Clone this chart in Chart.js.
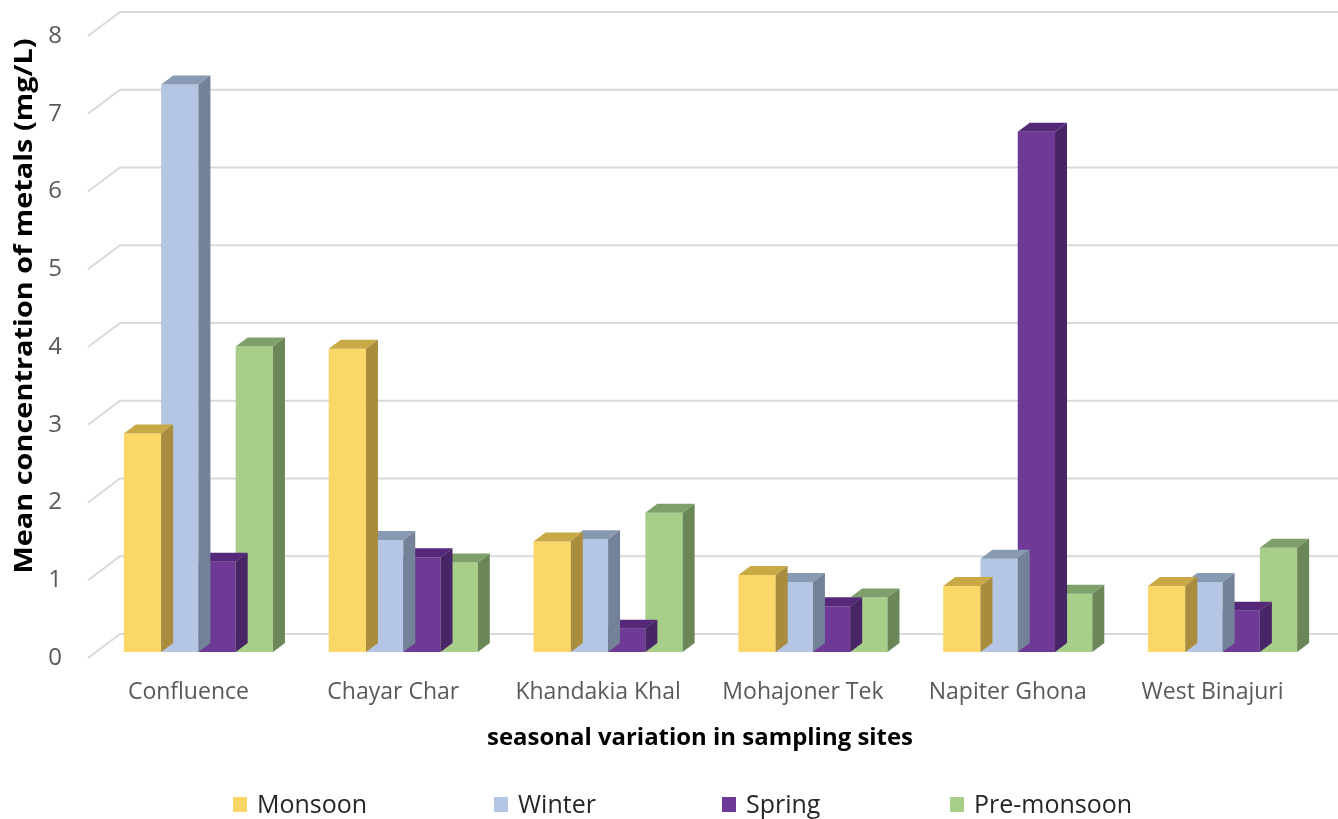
<!DOCTYPE html>
<html>
<head>
<meta charset="utf-8">
<script src="https://cdn.jsdelivr.net/npm/chart.js@4.4.1/dist/chart.umd.min.js"></script>
<style>
  html, body { margin: 0; padding: 0; background: #ffffff; }
  #wrap { width: 1338px; height: 819px; position: relative; }
</style>
</head>
<body>
<div id="wrap"><canvas id="chart" width="1338" height="819"></canvas></div>
<script>
// Sampling sites along the x axis
const sites = ['Confluence', 'Chayar Char', 'Khandakia Khal', 'Mohajoner Tek', 'Napiter Ghona', 'West Binajuri'];

// Mean concentration of metals (mg/L) per season
const monsoon    = [2.81, 3.90, 1.42, 0.99, 0.85, 0.85];
const winter     = [7.30, 1.44, 1.45, 0.90, 1.20, 0.90];
const spring     = [1.16, 1.22, 0.30, 0.59, 6.69, 0.53];
const preMonsoon = [3.93, 1.15, 1.79, 0.70, 0.75, 1.34];

const seasonNames = ['Monsoon', 'Winter', 'Spring', 'Pre-monsoon'];
const yTicks = [0, 1, 2, 3, 4, 5, 6, 7, 8];

// front / top / side shades for each season
const shades = [
  { front: '#FAD766', top: '#C9A945', side: '#A98C3D' },
  { front: '#B4C6E3', top: '#8899B2', side: '#738299' },
  { front: '#6F3996', top: '#55287A', side: '#472566' },
  { front: '#A8CF8A', top: '#7FA06A', side: '#6B8757' }
];

const DEPTH_X = 12, DEPTH_Y = 9;      // bar depth offset
const BACK_X = 24, BACK_Y = 18;       // bar front plane -> back wall
const FRONT_X = 8, FRONT_Y = 6;       // bar front plane -> front edge

// draws text centred on (cx, cy), stretched along its run to a given length
function fitText(ctx, text, cx, cy, length, angle) {
  ctx.save();
  ctx.translate(cx, cy);
  ctx.rotate(angle);
  const w = ctx.measureText(text).width;
  ctx.scale(length / w, 1);
  ctx.textAlign = 'center';
  ctx.textBaseline = 'middle';
  ctx.fillText(text, 0, 0);
  ctx.restore();
}

// Back wall grid, diagonal floor edges, bar depth faces, labels and legend
const wallPlugin = {
  id: 'wall',
  beforeDatasetsDraw(chart) {
    const ctx = chart.ctx;
    const y = chart.scales.y;
    const left = chart.chartArea.left;
    ctx.save();
    ctx.strokeStyle = '#D9D9D9';
    ctx.lineWidth = 2;
    yTicks.forEach(v => {
      const py = y.getPixelForValue(v);
      ctx.beginPath();
      ctx.moveTo(left - FRONT_X, py + FRONT_Y);
      ctx.lineTo(left + BACK_X, py - BACK_Y);
      ctx.lineTo(chart.width, py - BACK_Y);
      ctx.stroke();
    });
    ctx.restore();
  },
  afterDatasetDraw(chart, args) {
    const ctx = chart.ctx;
    const meta = args.meta;
    const s = shades[args.index];
    ctx.save();
    meta.data.forEach(bar => {
      const { x, y, base, width } = bar.getProps(['x', 'y', 'base', 'width'], true);
      const l = x - width / 2, r = x + width / 2;
      // top face
      ctx.fillStyle = s.top;
      ctx.beginPath();
      ctx.moveTo(l, y);
      ctx.lineTo(l + DEPTH_X, y - DEPTH_Y);
      ctx.lineTo(r + DEPTH_X, y - DEPTH_Y);
      ctx.lineTo(r, y);
      ctx.closePath();
      ctx.fill();
      // side face
      ctx.fillStyle = s.side;
      ctx.beginPath();
      ctx.moveTo(r, y);
      ctx.lineTo(r + DEPTH_X, y - DEPTH_Y);
      ctx.lineTo(r + DEPTH_X, base - DEPTH_Y);
      ctx.lineTo(r, base);
      ctx.closePath();
      ctx.fill();
    });
    ctx.restore();
  },
  afterDraw(chart) {
    const ctx = chart.ctx;
    const x = chart.scales.x, y = chart.scales.y;
    const left = chart.chartArea.left;
    ctx.save();
    // y tick labels
    ctx.fillStyle = '#595959';
    ctx.font = '24px "Open Sans"';
    ctx.textAlign = 'right';
    ctx.textBaseline = 'middle';
    yTicks.forEach(v => {
      ctx.fillText(String(v), left - 34, y.getPixelForValue(v) + FRONT_Y);
    });
    // category labels
    ctx.font = '23px "Open Sans"';
    ctx.textAlign = 'center';
    sites.forEach((name, i) => {
      ctx.fillText(name, x.getPixelForValue(i) - FRONT_X - 2, 692);
    });
    // axis titles
    ctx.fillStyle = '#000000';
    ctx.font = 'bold 24px "Open Sans"';
    fitText(ctx, 'seasonal variation in sampling sites', 700, 738, 426, 0);
    ctx.font = 'bold 25px "Open Sans"';
    fitText(ctx, 'Mean concentration of metals (mg/L)', 25, 306, 535, -Math.PI / 2);
    // legend
    const legendX = [233, 494, 722, 950];
    ctx.font = '25px "Open Sans"';
    ctx.textAlign = 'left';
    ctx.textBaseline = 'middle';
    seasonNames.forEach((name, i) => {
      ctx.fillStyle = shades[i].front;
      ctx.fillRect(legendX[i], 797, 14, 15);
      ctx.fillStyle = '#262626';
      ctx.fillText(name, legendX[i] + 24, 806);
    });
    ctx.restore();
  }
};

const seriesValues = [monsoon, winter, spring, preMonsoon];

new Chart(document.getElementById('chart'), {
  type: 'bar',
  data: {
    labels: sites,
    datasets: seasonNames.map((name, i) => ({
      label: name,
      data: seriesValues[i],
      backgroundColor: shades[i].front,
      borderWidth: 0,
      barPercentage: 1.0,
      categoryPercentage: 0.728
    }))
  },
  options: {
    responsive: false,
    animation: false,
    events: [],
    layout: { padding: { left: 96, right: 13, top: 30, bottom: 167 } },
    plugins: { legend: { display: false }, tooltip: { enabled: false } },
    scales: {
      x: { display: false },
      y: { display: false, min: 0, max: 8 }
    }
  },
  plugins: [wallPlugin]
});
</script>
</body>
</html>
